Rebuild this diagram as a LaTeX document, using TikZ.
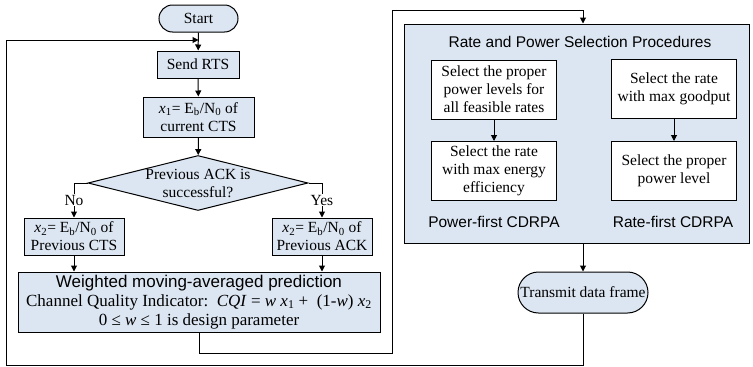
\documentclass[tikz,border=0pt]{standalone}
\usepackage{fontspec}
\setmainfont{Liberation Serif}
\setsansfont{Liberation Sans}
\usetikzlibrary{arrows.meta,shapes.geometric,shapes.misc}
\definecolor{boxfill}{RGB}{220,230,242}
\tikzset{
  every node/.style={font=\fontsize{15.5}{18}\selectfont},
  flowbox/.style={draw, line width=1pt, fill=boxfill, align=center, inner sep=3pt},
  whitebox/.style={draw, line width=1pt, fill=white, align=center, inner sep=3pt,
                   minimum width=125pt, minimum height=59pt},
  term/.style={draw, line width=1pt, fill=boxfill, rounded rectangle, inner sep=2pt},
  link/.style={line width=1pt, -{Triangle[length=6pt,width=6pt]}},
  plain/.style={line width=1pt},
  sanslabel/.style={font=\sffamily\fontsize{15.5}{18}\selectfont},
  edgelabel/.style={inner sep=1pt}
}
\begin{document}
\begin{tikzpicture}[x=1pt,y=-1pt]
\useasboundingbox (0,0) rectangle (753,367);

% left column: channel quality prediction
\node[term, minimum width=83pt, minimum height=27pt] (start) at (198.5,18.5) {Start};
\node[flowbox, minimum width=82pt, minimum height=27pt] (rts) at (198,64.5) {Send RTS};
\node[flowbox, minimum width=111pt, minimum height=40pt] (x1) at (198.5,117)
  {\textit{x}\textsubscript{1}= E\textsubscript{b}/N\textsubscript{0} of\\current CTS};
\node[diamond, draw, line width=1pt, fill=boxfill, inner sep=0pt,
      minimum width=220pt, minimum height=55pt] (dec) at (198,183) {};
\node[align=center] (dectext) at (dec.center) {Previous ACK is\\successful?};
\node[flowbox, minimum width=100pt, minimum height=37pt] (x2l) at (74,236.5)
  {\textit{x}\textsubscript{2}= E\textsubscript{b}/N\textsubscript{0} of\\Previous CTS};
\node[flowbox, minimum width=100pt, minimum height=37pt] (x2r) at (322,236.5)
  {\textit{x}\textsubscript{2}= E\textsubscript{b}/N\textsubscript{0} of\\Previous ACK};
\node[edgelabel] (no) at (74,200) {No};
\node[edgelabel] (yes) at (322,200) {Yes};
\node[flowbox, minimum width=362pt, minimum height=60pt,
      font=\fontsize{17}{19}\selectfont] (wt) at (199,302)
  {{\sffamily Weighted moving-averaged prediction}\\
   Channel Quality Indicator:\ \ \textit{CQI} = \textit{w x}\textsubscript{1} +\ \ (1-\textit{w}) \textit{x}\textsubscript{2}\\
   0 ≤ \textit{w} ≤ 1 is design parameter};

% right column: rate and power selection
\node[draw, line width=1pt, fill=boxfill, minimum width=345pt, minimum height=219pt,
      inner sep=0pt] (big) at (576.5,133.5) {};
\node[sanslabel] (title) at (580,42) {Rate and Power Selection Procedures};
\node[whitebox] (p1) at (494,89.5) {Select the proper\\power levels for\\all feasible rates};
\node[whitebox] (p2) at (494,171) {Select the rate\\with max energy\\efficiency};
\node[whitebox] (r1) at (674,88.5) {Select the rate\\with max goodput};
\node[whitebox] (r2) at (674,171) {Select the proper\\power level};
\node[sanslabel] (plabel) at (494,222) {Power-first CDRPA};
\node[sanslabel] (rlabel) at (673,222) {Rate-first CDRPA};
\node[term, minimum width=134pt, minimum height=41pt] (tx) at (583,292.5) {Transmit data frame};

% routing points of the two loops
\coordinate (upL) at (392,353);
\coordinate (upT) at (392,10);
\coordinate (backB) at (6,365);
\coordinate (backT) at (6,40);
\coordinate (join) at (198.5,40);

% connectors
\draw[link] (start) -- (rts);
\draw[link] (rts) -- (x1);
\draw[link] (x1) -- (dec);
\draw[plain] (dec.west) -| (no.north);
\draw[link] (no.south) -- (x2l.north);
\draw[plain] (dec.east) -| (yes.north);
\draw[link] (yes.south) -- (x2r.north);
\draw[link] (x2l.south) -- (x2l.south |- wt.north);
\draw[link] (x2r.south) -- (x2r.south |- wt.north);
\draw[link] (wt.south) |- (upL) -- (upT) -| (big.north -| tx.north);
\draw[link] (p1) -- (p2);
\draw[link] (r1) -- (r2);
\draw[link] (big.south -| tx.north) -- (tx.north);
\draw[link] (tx.south) |- (backB) -- (backT) -- (join);
\end{tikzpicture}
\end{document}
